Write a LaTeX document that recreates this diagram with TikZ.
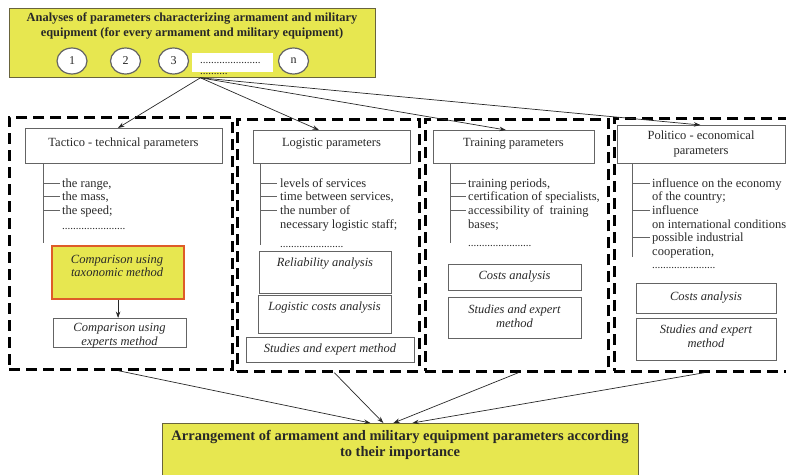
\documentclass[tikz,border=0pt]{standalone}
\usepackage{fontspec}
\setmainfont{Liberation Serif}
\usetikzlibrary{arrows.meta,shapes.geometric}
\definecolor{hiyel}{RGB}{231,231,80}
\definecolor{edgegray}{RGB}{100,100,100}
\definecolor{orng}{RGB}{222,92,40}
\definecolor{olivebd}{RGB}{105,100,60}
\definecolor{txt}{RGB}{40,40,40}
\newcommand\fbody{\fontsize{12.5}{13.7}\selectfont}
\newcommand\fdots{\fontsize{11}{13}\selectfont}
\begin{document}
\begin{tikzpicture}[x=1pt,y=-1pt,
  every node/.style={text=txt, inner sep=0pt},
  framebox/.style={draw=edgegray, line width=0.8pt, fill=white, anchor=north west},
  grpbox/.style={draw=black, line width=2.7pt, dash pattern=on 11pt off 6pt, anchor=north west},
  numcirc/.style={draw=edgegray, line width=1.2pt, fill=white, shape=ellipse, minimum width=30pt, minimum height=26pt, font=\fontsize{12}{13}\selectfont},
  plain/.style={font=\fbody},
  itxt/.style={font=\fbody\itshape, align=center},
  listtxt/.style={font=\fbody, align=left, anchor=north west},
  dotrow/.style={font=\fdots, anchor=base west},
  conn/.style={draw=txt, line width=0.7pt, -{Stealth[length=6.5pt,width=4.5pt]}},
  tick/.style={draw=edgegray, line width=0.8pt}
]
\useasboundingbox (0,0) rectangle (786,474);

% ---------- top box ----------
\node[draw=olivebd, line width=0.8pt, fill=hiyel, anchor=north west,
      minimum width=366pt, minimum height=69pt] (top) at (9,8) {};
\node[font=\fontsize{12.4}{15}\selectfont\bfseries, align=center] (title) at (192,25.5)
  {Analyses of parameters characterizing armament and military\\
   equipment (for every armament and military equipment)};
\node[numcirc] (c1) at (72,61) {1};
\node[numcirc] (c2) at (125.5,61) {2};
\node[numcirc] (c3) at (173.5,61) {3};
\node[fill=white, anchor=north west, minimum width=81pt, minimum height=19pt] (wbox) at (192,53) {};
\node[dotrow] (wdots) at (200,63) {......................};
\node[dotrow] (wdots2) at (200,74) {..........};
\node[numcirc] (cn) at (293.5,61) {n};

% ---------- dashed groups ----------
\node[grpbox, minimum width=223pt, minimum height=252pt] (g1) at (8,116) {};
\node[grpbox, minimum width=182pt, minimum height=252pt] (g2) at (236,118) {};
\node[grpbox, minimum width=183pt, minimum height=252pt] (g3) at (424,118) {};
\node[grpbox, minimum width=182pt, minimum height=253pt] (g4) at (613,117) {};

% ---------- headers ----------
\node[framebox, minimum width=197pt, minimum height=35pt] (h1) at (25,128) {};
\node[plain] (h1t) at (123.5,143) {Tactico - technical parameters};
\node[framebox, minimum width=157pt, minimum height=33pt] (h2) at (253,130) {};
\node[plain] (h2t) at (331.5,144) {Logistic parameters};
\node[framebox, minimum width=161pt, minimum height=33pt] (h3) at (433,130) {};
\node[plain] (h3t) at (513.5,144) {Training parameters};
\node[framebox, minimum width=168pt, minimum height=38pt] (h4) at (617,125) {};
\node[plain, align=center, font=\fontsize{12.5}{15}\selectfont] (h4t) at (701,144) {Politico - economical\\parameters};

% ---------- lists ----------
% group 1
\draw[tick] (43,163) -- (43,243);
\foreach \yy in {183,196.7,210.4} \draw[tick] (43,\yy) -- (60,\yy);
\node[listtxt] (l1) at (62,177.4) {\strut the range,\\ the mass,\\ the speed;};
\node[dotrow] (d1) at (62,229) {.......................};
% group 2
\draw[tick] (260,163) -- (260,245);
\foreach \yy in {183,196.7,210.4} \draw[tick] (260,\yy) -- (277,\yy);
\node[listtxt] (l2) at (280,177.4) {\strut levels of services\\ time between services,\\ the number of\\ necessary logistic staff;};
\node[dotrow] (d2) at (280,247) {.......................};
% group 3
\draw[tick] (450,163) -- (450,243);
\foreach \yy in {183,196.7,210.4} \draw[tick] (450,\yy) -- (466,\yy);
\node[listtxt] (l3) at (468,177.4) {\strut training periods,\\ certification of specialists,\\ accessibility of~ training\\ bases;};
\node[dotrow] (d3) at (468,246) {.......................};
% group 4
\draw[tick] (632,163) -- (632,257);
\foreach \yy in {183,210.4,237.8} \draw[tick] (632,\yy) -- (650,\yy);
\node[listtxt] (l4) at (652,177.4) {\strut influence on the economy\\ of the country;\\ influence\\ on international conditions\\ possible industrial\\ cooperation,};
\node[dotrow] (d4) at (652,268) {.......................};

% ---------- method boxes ----------
\node[framebox, fill=hiyel, draw=orng, line width=2.2pt, minimum width=132pt, minimum height=53pt] (tax) at (51,245) {};
\node[itxt] (taxt) at (117,266) {Comparison using\\taxonomic method};
\node[framebox, minimum width=133pt, minimum height=29pt] (exp) at (53,318) {};
\node[itxt] (expt) at (119.5,336) {Comparison using\\experts method};

\node[framebox, minimum width=132pt, minimum height=42pt] (rel) at (259,251) {};
\node[itxt] (relt) at (325,264) {Reliability analysis};
\node[framebox, minimum width=133pt, minimum height=38pt] (lco) at (258,295) {};
\node[itxt] (lcot) at (324.5,308) {Logistic costs analysis};
\node[framebox, minimum width=168pt, minimum height=25pt] (sem2) at (246,337) {};
\node[itxt] (sem2t) at (330,349.5) {Studies and expert method};

\node[framebox, minimum width=133pt, minimum height=26pt] (co3) at (448,264) {};
\node[itxt] (co3t) at (514.5,277) {Costs analysis};
\node[framebox, minimum width=133pt, minimum height=41pt] (sem3) at (448,297) {};
\node[itxt] (sem3t) at (514.5,316) {Studies and expert\\method};

\node[framebox, minimum width=140pt, minimum height=30pt] (co4) at (636,283) {};
\node[itxt] (co4t) at (706,298) {Costs analysis};
\node[framebox, minimum width=140pt, minimum height=42pt] (sem4) at (636,318) {};
\node[itxt] (sem4t) at (706,336) {Studies and expert\\method};

% ---------- bottom box ----------
\node[draw=olivebd, line width=0.8pt, fill=hiyel, anchor=north west,
      minimum width=476pt, minimum height=60pt] (res) at (162,423) {};
\node[font=\fontsize{14.5}{16}\selectfont\bfseries, align=center] (rest) at (400,445)
  {Arrangement of armament and military equipment parameters according\\to their importance};

% ---------- connectors ----------
\coordinate (src) at ([xshift=8pt]top.south);
\draw[conn] (src) -- ([xshift=-6pt]h1.north);
\draw[conn] (src) -- ([xshift=-13pt]h2.north);
\draw[conn] (src) -- ([xshift=-8pt]h3.north);
\draw[conn] (src) -- ([xshift=-1pt]h4.north);
\draw[conn] (tax.south) -- (tax.south |- exp.north);
\draw[conn] ([xshift=-2.5pt]g1.south) -- ([xshift=-30pt]res.north);
\draw[conn] ([xshift=6pt]g2.south) -- ([xshift=-17pt]res.north);
\draw[conn] ([xshift=1.5pt]g3.south) -- ([xshift=-7pt]res.north);
\draw[conn] ([xshift=-1pt]g4.south) -- ([xshift=12pt]res.north);
\end{tikzpicture}
\end{document}
